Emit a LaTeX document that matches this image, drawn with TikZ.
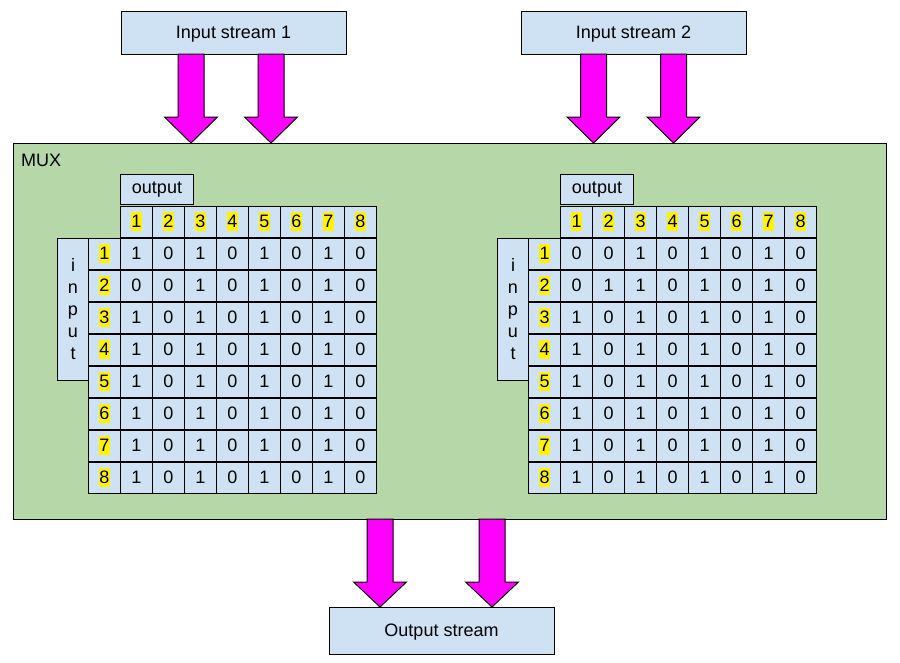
\documentclass[tikz,border=0pt]{standalone}
\usepackage{fontspec}
\setmainfont{Liberation Sans}
\definecolor{lblue}{HTML}{CFE2F3}
\definecolor{lgreen}{HTML}{B6D7A8}
\definecolor{mag}{HTML}{FF00FF}
\newcommand\hl[1]{{\setlength{\fboxsep}{0pt}\colorbox{yellow}{\rule[-3.3pt]{0pt}{19pt}\hspace{0.5pt}#1\hspace{0.5pt}}}}
\newcommand\barrow[4]{\draw[fill=mag, line width=1pt, line join=miter] (#1-13,#2) -- (#1+13,#2) -- (#1+13,#3) -- (#1+26.5,#3) -- (#1,#4) -- (#1-26.5,#3) -- (#1-13,#3) -- cycle;}
\begin{document}
\begin{tikzpicture}[x=1pt,y=-1pt, font=\fontsize{18}{22}\selectfont,
  bx/.style={draw, fill=lblue, line width=1pt, inner sep=0pt},
  cell/.style={draw, fill=lblue, line width=1pt, minimum width=32pt, minimum height=30.5pt, inner sep=0pt, anchor=north west}]
\useasboundingbox (0,0) rectangle (900,662);
\fill[white] (0,0) rectangle (900,662);
% boxes
\node[bx, text depth=0pt, minimum width=225pt, minimum height=43pt] (in1) at (233.5,32.5) {Input stream 1};
\node[bx, text depth=0pt, minimum width=225pt, minimum height=43pt] (in2) at (633.5,32.5) {Input stream 2};
\node[draw, fill=lgreen, line width=1pt, minimum width=873pt, minimum height=376pt, inner sep=0pt] (mux) at (449.5,331) {};
\node[anchor=west, inner sep=0pt] (muxl) at (21,160) {MUX};
\node[bx, text depth=0pt, minimum width=225pt, minimum height=47pt] (outs) at (441.5,630.5) {Output stream};
% tables
\foreach \ox/\tn in {0/L,440/R}{
  \node[bx, anchor=north west, minimum width=73pt, minimum height=30pt] (out\tn) at (120+\ox,174) {output};
  \foreach \c in {1,...,8}
    \node[cell] (h\tn\c) at (120+\ox+32*\c-32,206) {\raisebox{-2pt}{\hl{\c}}};
  \node[bx, anchor=north west, minimum width=31pt, minimum height=142pt, align=center] (inp\tn) at (57+\ox,238) {i\\n\\p\\u\\t};
}
\foreach \ox/\tn/\ra/\rb in {0/L/{1,0,1,0,1,0,1,0}/{0,0,1,0,1,0,1,0},440/R/{0,0,1,0,1,0,1,0}/{0,1,1,0,1,0,1,0}}{
  \foreach \r in {1,...,8}{
    \node[cell] (l\tn\r) at (88+\ox,238+32*\r-32) {\hl{\r}};
    \ifnum\r=1 \edef\vals{\ra}\else\ifnum\r=2 \edef\vals{\rb}\else\edef\vals{1,0,1,0,1,0,1,0}\fi\fi
    \foreach \v [count=\c] in \vals
      \node[cell] (c\tn\r-\c) at (120+\ox+32*\c-32,238+32*\r-32) {\v};
  }
}
% arrows
\barrow{191}{54}{117}{143}
\barrow{271}{54}{117}{143}
\barrow{593.5}{54}{117}{143}
\barrow{673.5}{54}{117}{143}
\barrow{380}{519}{582}{607}
\barrow{492}{519}{582}{607}
\end{tikzpicture}
\end{document}
